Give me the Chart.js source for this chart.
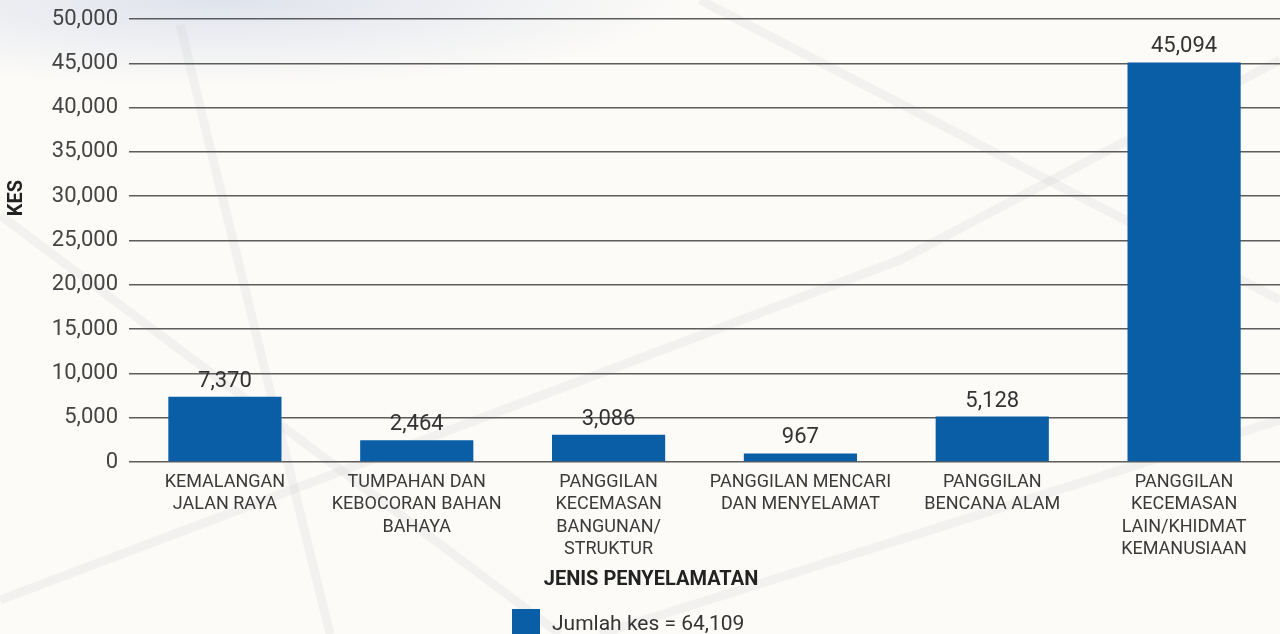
<!DOCTYPE html>
<html>
<head>
<meta charset="utf-8">
<script src="https://cdn.jsdelivr.net/npm/chart.js@4/dist/chart.umd.min.js"></script>
<style>
    html, body { margin: 0; padding: 0; background: #fcfbf8; }
    #wrap { width: 1280px; height: 634px; }
</style>
</head>
<body>
<div id="wrap"><canvas id="rescue-chart" width="1280" height="634"></canvas></div>
<script>
// Chart data
const categories = [
    ['KEMALANGAN', 'JALAN RAYA'],
    ['TUMPAHAN DAN', 'KEBOCORAN BAHAN', 'BAHAYA'],
    ['PANGGILAN', 'KECEMASAN', 'BANGUNAN/', 'STRUKTUR'],
    ['PANGGILAN MENCARI', 'DAN MENYELAMAT'],
    ['PANGGILAN', 'BENCANA ALAM'],
    ['PANGGILAN', 'KECEMASAN', 'LAIN/KHIDMAT', 'KEMANUSIAAN']
];
const caseCounts = [7370, 2464, 3086, 967, 5128, 45094];
const yTicks = [0, 5000, 10000, 15000, 20000, 25000, 30000, 35000, 40000, 45000, 50000];

const BAR_COLOR = '#0a5ea6';
const TEXT_COLOR = '#3a3a3a';
const FONT = 'Roboto, "Noto Sans", sans-serif';

const total = caseCounts.reduce((a, b) => a + b, 0);
const fmt = v => v.toLocaleString('en-US');

// Background with faint decorative strokes
const backdrop = {
    id: 'backdrop',
    beforeDraw(chart) {
        const ctx = chart.ctx;
        ctx.save();
        ctx.fillStyle = '#fcfbf8';
        ctx.fillRect(0, 0, chart.width, chart.height);
        ctx.save();
        ctx.scale(1, 0.18);
        const g = ctx.createRadialGradient(220, 0, 10, 220, 0, 480);
        g.addColorStop(0, 'rgba(222,226,236,0.95)');
        g.addColorStop(1, 'rgba(222,226,236,0)');
        ctx.fillStyle = g;
        ctx.fillRect(0, 0, 800, 600);
        ctx.restore();
        ctx.strokeStyle = 'rgba(205,205,205,0.2)';
        ctx.lineWidth = 9;
        const strokes = [
            [180, 25, 330, 634], [0, 215, 560, 634], [1280, 60, 900, 260],
            [700, 0, 1280, 300], [900, 260, 0, 600], [600, 634, 1280, 420]
        ];
        strokes.forEach(([x1, y1, x2, y2]) => {
            ctx.beginPath();
            ctx.moveTo(x1, y1);
            ctx.lineTo(x2, y2);
            ctx.stroke();
        });
        ctx.restore();
    }
};

// Value labels, axis titles and legend
const annotations = {
    id: 'annotations',
    afterDatasetsDraw(chart) {
        const ctx = chart.ctx;
        ctx.save();
        ctx.fillStyle = '#333';
        ctx.font = '22px ' + FONT;
        ctx.textAlign = 'center';
        ctx.textBaseline = 'alphabetic';
        chart.getDatasetMeta(0).data.forEach((bar, i) => {
            ctx.fillText(fmt(caseCounts[i]), bar.x, bar.y - 10);
        });

        // x title
        ctx.fillStyle = '#222';
        ctx.font = 'bold 20px ' + FONT;
        ctx.textBaseline = 'middle';
        ctx.fillText('JENIS PENYELAMATAN', 651, 580);

        // y title
        ctx.save();
        ctx.translate(17, 198);
        ctx.rotate(-Math.PI / 2);
        ctx.fillText('KES', 0, 0);
        ctx.restore();

        // legend
        ctx.fillStyle = BAR_COLOR;
        ctx.fillRect(512, 609, 28, 26);
        ctx.fillStyle = '#333';
        ctx.font = '21px ' + FONT;
        ctx.textAlign = 'left';
        ctx.textBaseline = 'alphabetic';
        ctx.fillText('Jumlah kes = ' + fmt(total), 552, 630);
        ctx.restore();
    }
};

new Chart(document.getElementById('rescue-chart'), {
    type: 'bar',
    data: {
        labels: categories,
        datasets: [{
            label: 'Jumlah kes = ' + fmt(total),
            data: caseCounts,
            backgroundColor: BAR_COLOR,
            borderWidth: 0,
            barPercentage: 0.59,
            categoryPercentage: 1
        }]
    },
    options: {
        responsive: false,
        animation: false,
        layout: { padding: { top: 19, right: 0, bottom: 0, left: 0 } },
        plugins: {
            legend: { display: false },
            tooltip: { enabled: false }
        },
        scales: {
            x: {
                grid: { display: false },
                border: { display: false },
                ticks: {
                    color: TEXT_COLOR,
                    font: { family: FONT, size: 18, lineHeight: 1.25 },
                    padding: 1,
                    maxRotation: 0,
                    autoSkip: false
                },
                afterFit(scale) { scale.height = 172; }
            },
            y: {
                min: 0,
                max: 50000,
                afterBuildTicks(scale) { scale.ticks = yTicks.map(v => ({ value: v })); },
                grid: { color: '#5c5c5c', lineWidth: 1.5, drawTicks: false },
                border: { display: false },
                ticks: {
                    color: '#444',
                    font: { family: FONT, size: 22 },
                    padding: 11,
                    callback: v => fmt(v)
                },
                afterFit(scale) {
                    scale.width = 129;
                    scale.paddingTop = 0;
                    scale.paddingBottom = 0;
                }
            }
        }
    },
    plugins: [backdrop, annotations]
});
</script>
</body>
</html>
